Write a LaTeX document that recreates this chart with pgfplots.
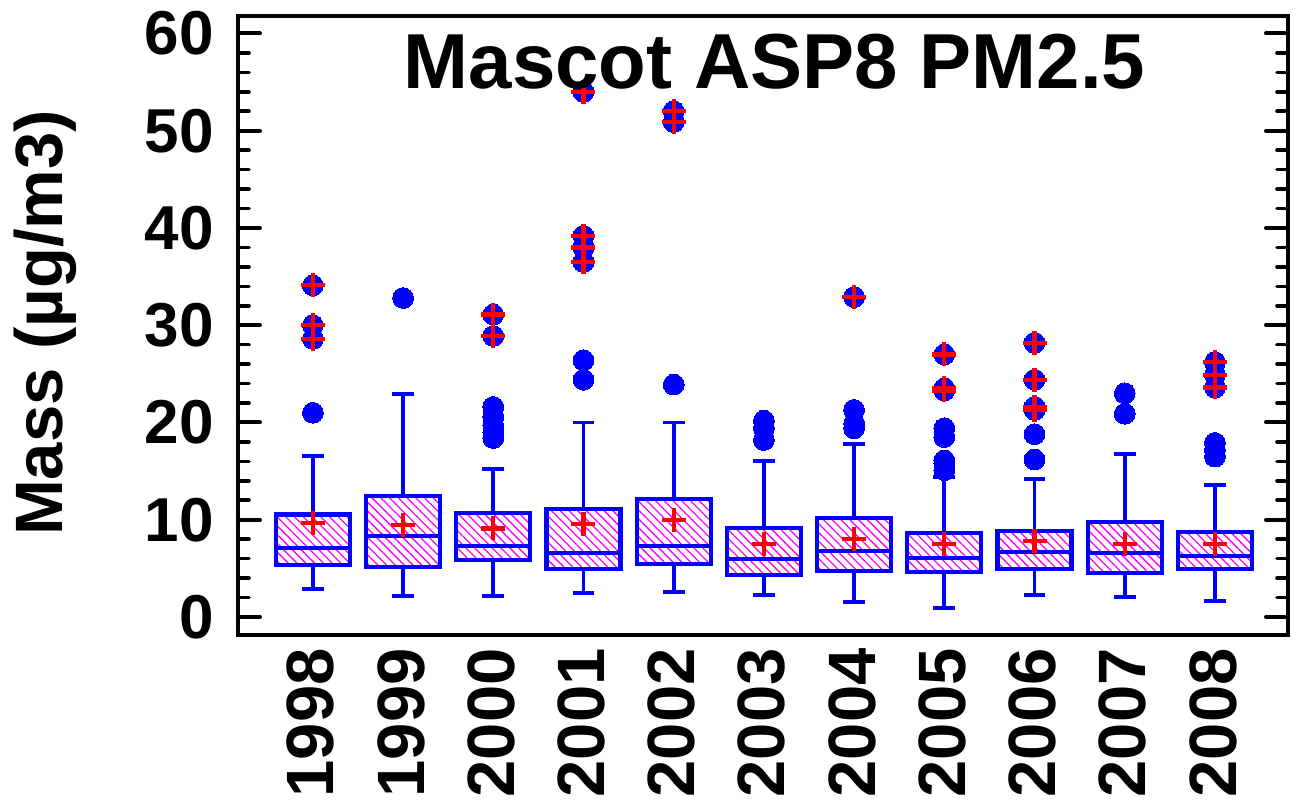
\documentclass[border=0pt]{standalone}
\usepackage{fontspec}
\setmainfont{Liberation Sans}
\usepackage{pgfplots}
\pgfplotsset{compat=1.18}
\usepgfplotslibrary{statistics}
\usetikzlibrary{patterns.meta}

\pgfplotsset{
  mybox/.style={blue, line width=2pt, solid, mark=none,
    boxplot/draw direction=y,
    boxplot/box extend=0.82, boxplot/whisker extend=0.24,
    boxplot/every box/.style={draw=blue, line width=2.1pt,
      pattern={Lines[angle=-45,distance=3.1pt,line width=0.65pt]}, pattern color=magenta},
    boxplot/every whisker/.style={blue, line width=1.9pt},
    boxplot/every median/.style={blue, line width=2.1pt}},
  redplus/.style={only marks, mark=+, mark size=6pt, red, mark options={line width=2.1pt, red}},
  bluedot/.style={only marks, mark=*, mark size=5.2pt, blue, mark options={draw=blue, fill=blue, line width=0pt}},
}

\begin{document}
\begin{tikzpicture}
\begin{axis}[
  name=ax,
  scale only axis, width=525pt, height=309.5pt,
  xmin=-0.83, xmax=10.81, ymin=-1.85, ymax=61.8,
  axis line style={line width=2.3pt, black},
  xtick={0,1,2,3,4,5,6,7,8,9,10},
  xticklabels={1998,1999,2000,2001,2002,2003,2004,2005,2006,2007,2008},
  xtick style={draw=none},
  ytick={0,10,20,30,40,50,60},
  minor y tick num=4,
  ytick pos=both,
  tick align=inside,
  major tick length=11pt, minor tick length=5.5pt,
  ytick style={black, line width=2pt, line cap=round},
  minor y tick style={black, line width=1.8pt, line cap=round},
  /pgf/number format/assume math mode=true,
  yticklabel style={font=\fontsize{31}{31}\selectfont\bfseries, inner sep=0pt, anchor=east, xshift=-12pt},
  xticklabel style={yshift=-6.5pt, xshift=-1pt, font=\fontsize{33.5}{33.5}\selectfont\bfseries, rotate=90, anchor=east, inner sep=0pt},
  ylabel={Mass (µg/m3)},
  ylabel style={font=\fontsize{33.5}{33.5}\selectfont\bfseries, at={(axis description cs:-0.1676,0.504)}, anchor=base, rotate=0},
  title={Mascot ASP8 PM2.5},
  title style={font=\fontsize{39}{39}\selectfont\bfseries, at={(axis description cs:0.511,0.864)}, anchor=base},
]
\addplot[mybox, boxplot prepared={draw position=0, lower whisker=2.88, lower quartile=5.34, median=7.13, upper quartile=10.55, upper whisker=16.58}] coordinates {};
\addplot[mybox, boxplot prepared={draw position=1, lower whisker=2.16, lower quartile=5.17, median=8.32, upper quartile=12.44, upper whisker=22.9}] coordinates {};
\addplot[mybox, boxplot prepared={draw position=2, lower whisker=2.16, lower quartile=5.86, median=7.30, upper quartile=10.66, upper whisker=15.18}] coordinates {};
\addplot[mybox, boxplot prepared={draw position=3, lower whisker=2.43, lower quartile=4.90, median=6.55, upper quartile=11.07, upper whisker=20.0}] coordinates {};
\addplot[mybox, boxplot prepared={draw position=4, lower whisker=2.54, lower quartile=5.45, median=7.33, upper quartile=12.13, upper whisker=20.0}] coordinates {};
\addplot[mybox, boxplot prepared={draw position=5, lower whisker=2.26, lower quartile=4.28, median=5.93, upper quartile=9.18, upper whisker=16.03}] coordinates {};
\addplot[mybox, boxplot prepared={draw position=6, lower whisker=1.58, lower quartile=4.76, median=6.81, upper quartile=10.14, upper whisker=17.78}] coordinates {};
\addplot[mybox, boxplot prepared={draw position=7, lower whisker=0.89, lower quartile=4.66, median=6.10, upper quartile=8.60, upper whisker=14.4}] coordinates {};
\addplot[mybox, boxplot prepared={draw position=8, lower whisker=2.26, lower quartile=4.90, median=6.65, upper quartile=8.87, upper whisker=14.18}] coordinates {};
\addplot[mybox, boxplot prepared={draw position=9, lower whisker=2.09, lower quartile=4.49, median=6.61, upper quartile=9.73, upper whisker=16.8}] coordinates {};
\addplot[mybox, boxplot prepared={draw position=10, lower whisker=1.68, lower quartile=4.90, median=6.30, upper quartile=8.77, upper whisker=13.57}] coordinates {};
% outliers (blue dots)
\addplot[bluedot] coordinates {
 (0,21.0) (0,28.6) (0,30.0) (0,34.1)
 (1,32.8)
 (2,18.4) (2,19.0) (2,19.7) (2,20.6) (2,21.6) (2,28.9) (2,31.1)
 (3,24.4) (3,26.4) (3,36.5) (3,38.0) (3,39.2) (3,54.0)
 (4,23.9) (4,50.9) (4,52.0)
 (5,18.2) (5,19.4) (5,20.2)
 (6,19.4) (6,19.9) (6,21.3) (6,32.9)
 (7,15.1) (7,15.8) (7,16.1) (7,18.5) (7,19.4) (7,23.3) (7,23.5) (7,27.0)
 (8,16.2) (8,18.8) (8,21.3) (8,21.6) (8,24.4) (8,28.2)
 (9,20.9) (9,23.0)
 (10,16.5) (10,17.2) (10,17.9) (10,23.6) (10,24.9) (10,26.2)
};
% far outliers (red crosses)
\addplot[redplus] coordinates {
 (0,28.6) (0,30.0) (0,34.1)
 (2,28.9) (2,31.1)
 (3,36.5) (3,38.0) (3,39.2) (3,54.0)
 (4,50.9) (4,52.0)
 (6,32.9)
 (7,23.3) (7,23.5) (7,27.0)
 (8,21.3) (8,21.6) (8,24.4) (8,28.2)
 (10,23.6) (10,24.9) (10,26.2)
};
% means
\addplot[redplus] coordinates {
 (0,9.63) (1,9.46) (2,9.11) (3,9.53) (4,9.97) (5,7.47) (6,7.98) (7,7.50) (8,7.84) (9,7.50) (10,7.50)
};
\end{axis}
\pgfresetboundingbox
\path[use as bounding box] ([xshift=-119pt,yshift=-83pt]ax.south west) rectangle ([xshift=4.5pt,yshift=8pt]ax.north east);
\end{tikzpicture}
\end{document}
